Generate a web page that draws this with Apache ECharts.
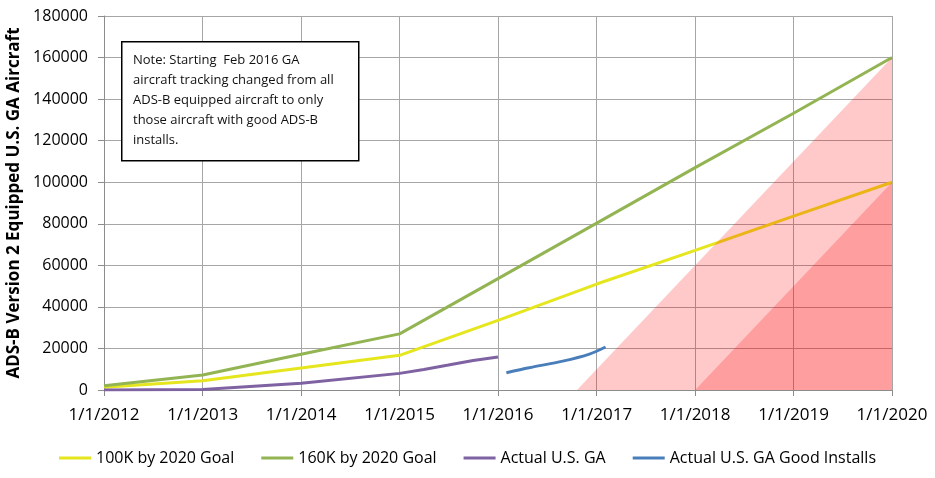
<!DOCTYPE html>
<html>
<head>
<meta charset="utf-8">
<script src="https://cdn.jsdelivr.net/npm/echarts@6/dist/echarts.min.js"></script>
<style>html,body{margin:0;padding:0;background:#fff}#c{width:935px;height:478px}</style>
</head>
<body>
<div id="c"></div>
<script>
// ---- data ----
const xTickYears = [2012, 2013, 2014, 2015, 2016, 2017, 2018, 2019, 2020];
const yTicks = [0, 20000, 40000, 60000, 80000, 100000, 120000, 140000, 160000, 180000];

const goal100Dates = ['2012-01-01','2013-01-01','2014-01-01','2015-01-01','2016-01-01','2017-01-01','2018-01-01','2019-01-01','2020-01-01'];
const goal100Values = [1300, 4500, 10600, 16700, 33500, 51000, 67200, 83700, 100000];

const goal160Dates = ['2012-01-01','2013-01-01','2014-01-01','2015-01-01','2016-01-01','2017-01-01','2018-01-01','2019-01-01','2020-01-01'];
const goal160Values = [2100, 7200, 17200, 27000, 53600, 80300, 107000, 133200, 160000];

const actualGADates = ['2012-01-01','2013-01-01','2014-01-01','2015-01-01','2015-04-01','2015-07-01','2015-10-01','2016-01-01'];
const actualGAValues = [0, 200, 3200, 8000, 9900, 12000, 14200, 15900];

const goodInstallDates = ['2016-02-01','2016-04-25','2016-08-28','2016-12-05','2017-02-03'];
const goodInstallValues = [8300, 10700, 13900, 17300, 20702];

// shaded "late" zones (triangles from zero up to the goal at 2020)
const lightZoneDates = ['2016-10-20','2020-01-01'];
const lightZoneValues = [0, 160000];
const darkZoneDates = ['2018-01-01','2020-01-01'];
const darkZoneValues = [0, 100000];

const seriesNames = ['100K by 2020 Goal','160K by 2020 Goal','Actual U.S. GA','Actual U.S. GA Good Installs'];
const noteText = 'Note: Starting  Feb 2016 GA\naircraft tracking changed from all\nADS-B equipped aircraft to only\nthose aircraft with good ADS-B\ninstalls.';
const yAxisTitle = 'ADS-B Version 2 Equipped U.S. GA Aircraft';

// ---- build ----
const zip = (d, v) => d.map((x, i) => [x, v[i]]);
const FONT = "'Open Sans', 'Liberation Sans', sans-serif";
const YEAR = 365 * 24 * 3600 * 1000;

const goodData = zip(goodInstallDates, goodInstallValues).map((p, i, a) =>
  i === a.length - 1
    ? { value: p, label: { show: true, position: 'right', distance: 14, formatter: (pp) => pp.value[1].toLocaleString('en-US'),
        color: '#1a0a0a', fontSize: 16, fontFamily: FONT } }
    : p);

const chart = echarts.init(document.getElementById('c'), null, { renderer: 'canvas' });
chart.setOption({
  animation: false,
  backgroundColor: '#ffffff',
  grid: { left: 104, right: 43, top: 16, bottom: 88, containLabel: false, outerBoundsMode: 'none' },
  xAxis: {
    type: 'time',
    min: '2012-01-01',
    max: '2020-01-01',
    splitNumber: 8,
    minInterval: YEAR,
    maxInterval: YEAR + 24 * 3600 * 1000,
    axisLine: { show: true, lineStyle: { color: '#8c8c8c', width: 1 } },
    axisTick: { show: true, length: 6, lineStyle: { color: '#8c8c8c' } },
    axisLabel: {
      margin: 17, fontSize: 17, color: '#000', fontFamily: FONT,
      formatter: (v) => { const y = new Date(v).getFullYear(); return xTickYears.indexOf(y) >= 0 ? '1/1/' + y : ''; },
      showMinLabel: true, showMaxLabel: true, hideOverlap: false
    },
    splitLine: { show: true, lineStyle: { color: '#a6a6a6', width: 1 } }
  },
  yAxis: {
    type: 'value',
    min: yTicks[0],
    max: yTicks[yTicks.length - 1],
    interval: yTicks[1] - yTicks[0],
    name: yAxisTitle,
    nameLocation: 'middle',
    nameGap: 78,
    nameTextStyle: { fontSize: 17, fontWeight: 'bold', color: '#000', fontFamily: FONT },
    axisLine: { show: true, lineStyle: { color: '#8c8c8c', width: 1 } },
    axisTick: { show: true, length: 6, lineStyle: { color: '#8c8c8c' } },
    axisLabel: { margin: 16, fontSize: 16, color: '#000', fontFamily: FONT, formatter: (v) => String(v) },
    splitLine: { show: true, lineStyle: { color: '#a6a6a6', width: 1 } }
  },
  legend: {
    data: seriesNames,
    left: 'center',
    top: 445,
    icon: 'rect',
    itemWidth: 32,
    itemHeight: 3,
    itemGap: 27,
    textStyle: { fontSize: 16, color: '#000', fontFamily: FONT }
  },
  graphic: [
    { type: 'rect', left: 121, top: 41, z: 100,
      shape: { width: 237, height: 119 },
      style: { fill: '#ffffff', stroke: '#000000', lineWidth: 1.5 } },
    { type: 'text', left: 133, top: 50, z: 101,
      style: { text: noteText, fontSize: 13, lineHeight: 20, fill: '#111', fontFamily: FONT } }
  ],
  series: [
    { name: seriesNames[0], type: 'line', data: zip(goal100Dates, goal100Values), showSymbol: false, symbol: 'none',
      lineStyle: { color: '#e6e61e', width: 3 }, itemStyle: { color: '#e6e61e' }, z: 2 },
    { name: seriesNames[1], type: 'line', data: zip(goal160Dates, goal160Values), showSymbol: false, symbol: 'none',
      lineStyle: { color: '#93b452', width: 3 }, itemStyle: { color: '#93b452' }, z: 2 },
    { name: seriesNames[2], type: 'line', data: zip(actualGADates, actualGAValues), showSymbol: false, symbol: 'none',
      lineStyle: { color: '#7f62a1', width: 3 }, itemStyle: { color: '#7f62a1' }, z: 2 },
    { name: seriesNames[3], type: 'line', data: goodData, showSymbol: false, symbol: 'none', smooth: 0.3,
      lineStyle: { color: '#4a7ebb', width: 3 }, itemStyle: { color: '#4a7ebb' }, z: 2 },
    { name: 'zoneLight', type: 'line', data: zip(lightZoneDates, lightZoneValues), symbol: 'none', silent: true,
      lineStyle: { width: 0, opacity: 0 }, areaStyle: { color: 'rgba(255,0,0,0.3)', origin: 'start' }, z: 5 },
    { name: 'zoneDark', type: 'line', data: zip(darkZoneDates, darkZoneValues), symbol: 'none', silent: true,
      lineStyle: { width: 0, opacity: 0 }, areaStyle: { color: 'rgba(255,0,0,0.3)', origin: 'start' }, z: 5 }
  ]
});
</script>
</body>
</html>
